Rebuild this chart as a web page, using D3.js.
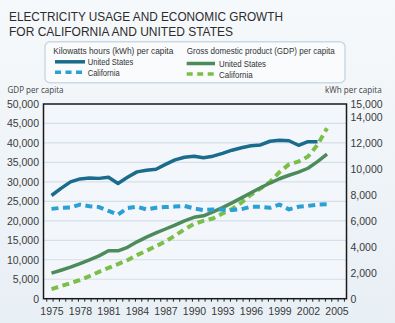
<!DOCTYPE html>
<html>
<head>
<meta charset="utf-8">
<script src="https://cdn.jsdelivr.net/npm/d3@7/dist/d3.min.js"></script>
<style>
  html, body { margin: 0; padding: 0; background: #eef3f8; }
  svg { display: block; font-family: "Open Sans", "Noto Sans", sans-serif; }
</style>
</head>
<body>
<svg id="viz" width="395" height="323"></svg>
<script>
// yearly values, 1975 onwards
var years = [1975, 1976, 1977, 1978, 1979, 1980, 1981, 1982, 1983, 1984,
             1985, 1986, 1987, 1988, 1989, 1990, 1991, 1992, 1993, 1994,
             1995, 1996, 1997, 1998, 1999, 2000, 2001, 2002, 2003, 2004];

// electricity, kWh per capita (right axis)
var kwhUS = [7950, 8500, 9000, 9230, 9290, 9270, 9350, 8880, 9350, 9770,
             9890, 9970, 10350, 10700, 10900, 10980, 10860, 10980, 11200, 11440,
             11630, 11790, 11850, 12130, 12210, 12170, 11820, 12100, 12100];
var kwhCA = [6920, 7000, 7020, 7250, 7120, 7060, 6760, 6480, 6980, 7080,
             6880, 7000, 7060, 7100, 7150, 6950, 6830, 6870, 6870, 6830,
             6900, 7080, 7080, 7000, 7250, 6880, 7080, 7150, 7250, 7280];

// gross domestic product per capita (left axis)
var gdpUS = [6550, 7300, 8100, 9000, 10000, 11000, 12300, 12300, 13200, 14600,
             15800, 16900, 17900, 18900, 20000, 20900, 21300, 22300, 23400, 24600,
             25900, 27200, 28500, 29700, 30800, 31700, 32500, 33500, 35200, 37100];
var gdpCA = [2450, 3250, 4000, 4800, 5800, 6900, 7900, 8900, 9900, 11200,
             12300, 13500, 14700, 16200, 17800, 19200, 20000, 20600, 21900, 23000,
             24700, 26700, 28300, 30000, 32500, 34500, 35200, 36500, 39500, 43800];

var leftTicks = [0, 5000, 10000, 15000, 20000, 25000, 30000, 35000, 40000, 45000, 50000];
var rightTicks = [0, 2000, 4000, 6000, 8000, 10000, 12000, 14000, 15000];
var yearLabels = [1975, 1978, 1981, 1984, 1987, 1990, 1993, 1996, 1999, 2002, 2005];

var svg = d3.select("#viz");
var W = 395, H = 323;
var plot = { left: 43.5, right: 346.5, top: 104, bottom: 298.7 };
var tickFont = "'Liberation Sans', Arial, sans-serif";

var defs = svg.append("defs");
var bg = defs.append("linearGradient").attr("id", "bg")
    .attr("x1", 0).attr("y1", 0).attr("x2", 0).attr("y2", 1);
bg.append("stop").attr("offset", "0%").attr("stop-color", "#f6f9fb");
bg.append("stop").attr("offset", "100%").attr("stop-color", "#e8eff5");
svg.append("rect").attr("width", W).attr("height", H).attr("fill", "url(#bg)");

var x = d3.scaleLinear().domain([1974, 2006]).range([42, 346]);
var yL = d3.scaleLinear().domain([0, 50000]).range([plot.bottom, plot.top]);
var yR = d3.scaleLinear().domain([0, 15000]).range([plot.bottom, plot.top]);
var fmt = d3.format(",");

// two-line title
var title = svg.append("g").attr("fill", "#2b2b2b")
    .style("font-size", "13.3px").style("font-family", tickFont);
title.append("text").attr("x", 9).attr("y", 20.5)
    .attr("textLength", 274).attr("lengthAdjust", "spacingAndGlyphs")
    .text("ELECTRICITY USAGE AND ECONOMIC GROWTH");
title.append("text").attr("x", 9).attr("y", 36)
    .attr("textLength", 224).attr("lengthAdjust", "spacingAndGlyphs")
    .text("FOR CALIFORNIA AND UNITED STATES");

// legend
var leg = svg.append("g");
leg.append("rect").attr("x", 45).attr("y", 41.7).attr("width", 300).attr("height", 41)
    .attr("rx", 5).attr("fill", "#f9fbfd").attr("stroke", "#cbd9e4").attr("stroke-width", 1.5);

var legText = function (tx, ty, s, len) {
    leg.append("text").attr("x", tx).attr("y", ty).attr("fill", "#333")
        .style("font-size", "9px").style("font-family", tickFont)
        .attr("textLength", len).attr("lengthAdjust", "spacingAndGlyphs")
        .text(s);
};
var legLine = function (x1, x2, ly, color, dash) {
    leg.append("line").attr("x1", x1).attr("x2", x2).attr("y1", ly).attr("y2", ly)
        .attr("stroke", color).attr("stroke-width", 3.5)
        .attr("stroke-dasharray", dash ? "6,4.5" : null);
};
legText(53.3, 54, "Kilowatts hours (kWh) per capita", 120);
legLine(55, 85, 61.8, "#1b6c8c", false);
legText(87.7, 64.8, "United States", 45.6);
legLine(55, 85, 72.3, "#2aa0d4", true);
legText(87.7, 75.5, "California", 32);

legText(186.7, 54, "Gross domestic product (GDP) per capita", 148);
legLine(186.7, 215, 63.5, "#4d8c5a", false);
legText(219, 67, "United States", 47);
legLine(186.7, 215, 74, "#7cbf48", true);
legText(219, 77.8, "California", 33.7);

// axis titles
svg.append("text").attr("x", 7.5).attr("y", 93).attr("fill", "#444")
    .style("font-size", "9px").attr("textLength", 56).attr("lengthAdjust", "spacingAndGlyphs")
    .text("GDP per capita");
svg.append("text").attr("x", 325).attr("y", 93).attr("fill", "#444")
    .style("font-size", "9px").attr("textLength", 56.7).attr("lengthAdjust", "spacingAndGlyphs")
    .text("kWh per capita");

// plot background + grid
svg.append("rect").attr("x", plot.left).attr("y", plot.top)
    .attr("width", plot.right - plot.left).attr("height", plot.bottom - plot.top)
    .attr("fill", "#f3f7fb");

svg.append("g").selectAll("line")
    .data(leftTicks.slice(1, -1))
    .enter().append("line")
    .attr("x1", plot.left).attr("x2", plot.right)
    .attr("y1", function (d) { return yL(d); })
    .attr("y2", function (d) { return yL(d); })
    .attr("stroke", "#d5dfe8").attr("stroke-width", 1.2);

// left axis
var axL = svg.append("g").attr("transform", "translate(" + plot.left + ",0)")
    .call(d3.axisLeft(yL).tickValues(leftTicks).tickFormat(fmt).tickSize(0).tickPadding(4.5));
axL.select(".domain").remove();
axL.selectAll("text").attr("fill", "#3a3a3a").style("font-size", "10.5px")
    .style("font-family", tickFont);

// right axis
var axR = svg.append("g").attr("transform", "translate(" + plot.right + ",0)")
    .call(d3.axisRight(yR).tickValues(rightTicks).tickFormat(fmt).tickSize(0).tickPadding(4));
axR.select(".domain").remove();
axR.selectAll("text").attr("fill", "#3a3a3a").style("font-size", "10.5px")
    .style("font-family", tickFont);

// bottom axis: labels every three years, small ticks along the line
var axB = svg.append("g").attr("transform", "translate(0," + plot.bottom + ")")
    .call(d3.axisBottom(x).tickValues(yearLabels).tickFormat(d3.format("d")).tickSize(0).tickPadding(9));
axB.select(".domain").remove();
axB.selectAll("text").attr("fill", "#3a3a3a").style("font-size", "10.5px")
    .style("font-family", tickFont);

var minor = d3.range(1974.5, 2006, 2 / 3);
svg.append("g").selectAll("line").data(minor).enter().append("line")
    .attr("x1", function (d) { return x(d); }).attr("x2", function (d) { return x(d); })
    .attr("y1", plot.bottom).attr("y2", plot.bottom + 3)
    .attr("stroke", "#222").attr("stroke-width", 1);

// frame
svg.append("rect").attr("x", plot.left).attr("y", plot.top)
    .attr("width", plot.right - plot.left).attr("height", plot.bottom - plot.top)
    .attr("fill", "none").attr("stroke", "#1a1a1a").attr("stroke-width", 1.5);

// series
var series = [
    { vals: gdpCA, scale: yL, color: "#7cbf48", dash: "7,4.5" },
    { vals: gdpUS, scale: yL, color: "#4d8c5a", dash: null },
    { vals: kwhCA, scale: yR, color: "#2aa0d4", dash: "7,4.5" },
    { vals: kwhUS, scale: yR, color: "#1b6c8c", dash: null }
];

series.forEach(function (s) {
    var line = d3.line()
        .x(function (d, i) { return x(years[i]); })
        .y(function (d) { return s.scale(d); });
    svg.append("path").datum(s.vals)
        .attr("d", line)
        .attr("fill", "none")
        .attr("stroke", s.color)
        .attr("stroke-width", s.dash ? 4 : 3.5)
        .attr("stroke-linejoin", "round")
        .attr("stroke-dasharray", s.dash);
});
</script>
</body>
</html>
